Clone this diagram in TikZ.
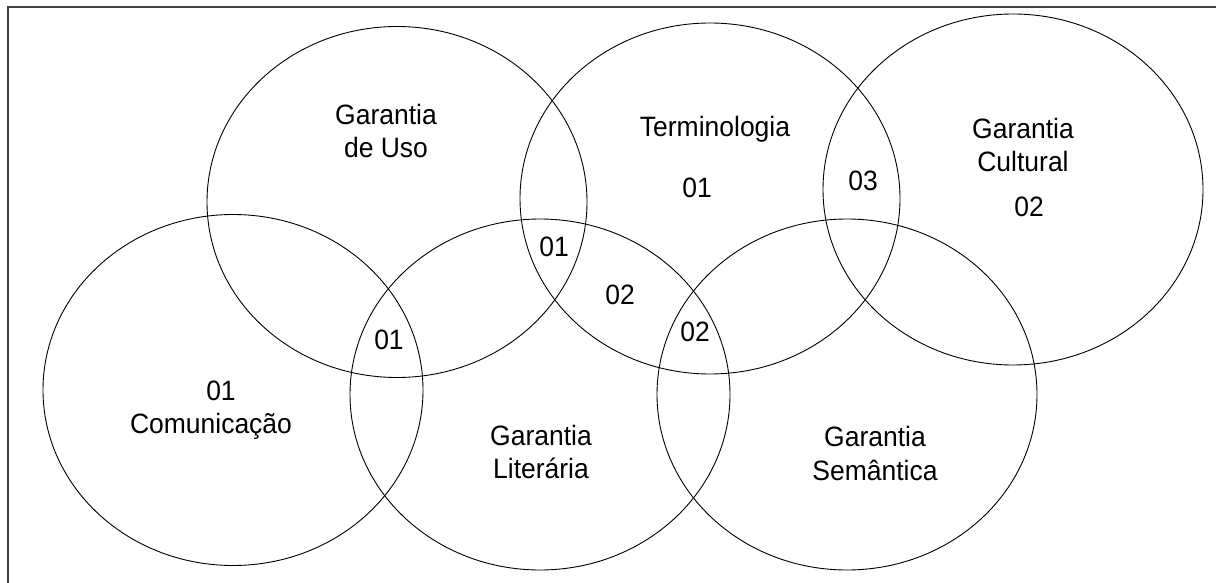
\documentclass[tikz,border=0pt]{standalone}
\usepackage{fontspec}
\setmainfont{Liberation Sans}[FakeStretch=0.946]
\begin{document}
\begin{tikzpicture}[x=1pt,y=-1pt,
  venn/.style={draw=black, line width=0.9pt},
  lbl/.style={font=\fontsize{28}{33.5}\selectfont, align=center, inner sep=0pt, text=black},
  frameline/.style={draw=black!75, line width=1.3pt}]
\useasboundingbox (0,0) rectangle (1216,583);
% frame (only top and left edges visible)
\coordinate (fbl) at (8,583);
\coordinate (ftl) at (8,7);
\coordinate (ftr) at (1216,7);
\draw[frameline] (fbl) -- (ftl) -- (ftr);
% ellipse centres
\coordinate (com) at (233,390);
\coordinate (uso) at (397,202);
\coordinate (lit) at (540,394.5);
\coordinate (ter) at (710,198.5);
\coordinate (sem) at (847,394.5);
\coordinate (cul) at (1013,189.5);
\foreach \c in {com,uso,lit,ter,sem,cul}
  \draw[venn] (\c) ellipse [x radius=190pt, y radius=175.5pt];
% labels
\node[lbl] (tuso) at (386,131) {Garantia\\de Uso};
\node[lbl] (tter) at (715,129.5) {Terminologia};
\node[lbl] (tcul) at (1023,145) {Garantia\\Cultural};
\node[lbl] (tlit) at (541,452) {Garantia\\Literária};
\node[lbl] (tsem) at (875,453.5) {Garantia\\Semântica};
\node[lbl] (tcom) at (211,410) {\hspace*{20pt}01\\Comunicação};
% numbers
\node[lbl] (n1) at (554,247) {01};
\node[lbl] (n2) at (389,340) {01};
\node[lbl] (n3) at (620,295) {02};
\node[lbl] (n4) at (695,332) {02};
\node[lbl] (n5) at (697,188) {01};
\node[lbl] (n6) at (863,181) {03};
\node[lbl] (n7) at (1029,207) {02};
\end{tikzpicture}
\end{document}
